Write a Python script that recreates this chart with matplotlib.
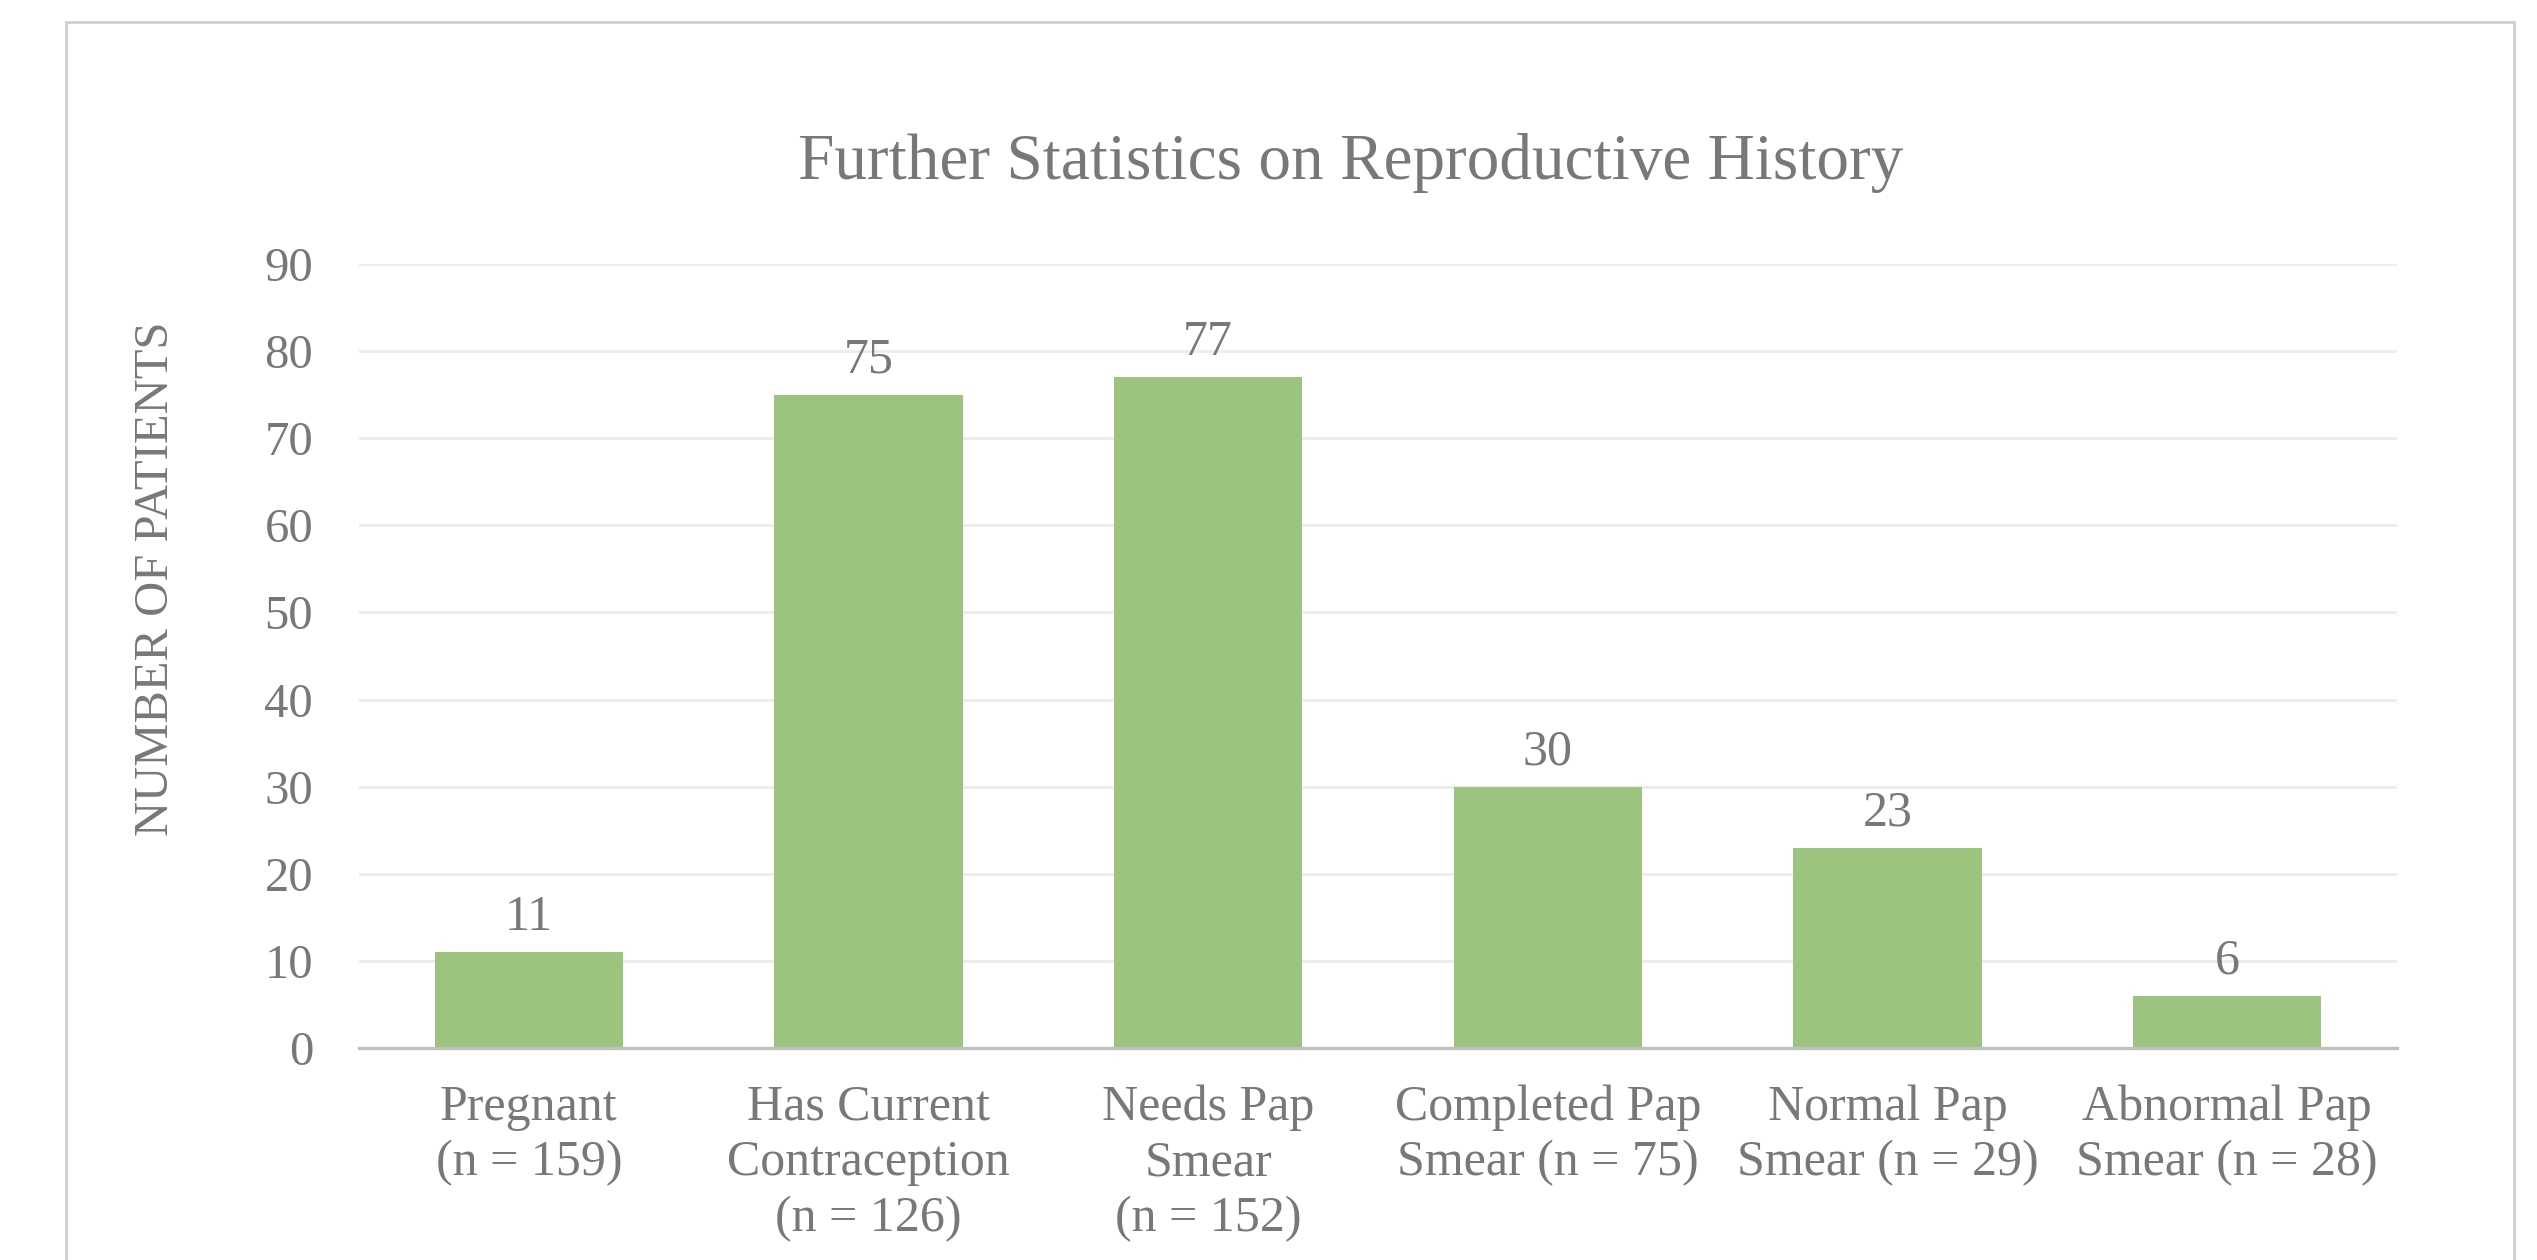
import matplotlib
matplotlib.use("Agg")
import matplotlib.pyplot as plt
from matplotlib.patches import Rectangle

# Chart data
categories = [
    "Pregnant\n(n = 159)",
    "Has Current\nContraception\n(n = 126)",
    "Needs Pap\nSmear\n(n = 152)",
    "Completed Pap\nSmear (n = 75)",
    "Normal Pap\nSmear (n = 29)",
    "Abnormal Pap\nSmear (n = 28)",
]
patients = [11, 75, 77, 30, 23, 6]
y_ticks = [0, 10, 20, 30, 40, 50, 60, 70, 80, 90]

bar_color = "#9cc47e"
text_color = "#787878"

plt.rcParams["font.family"] = ["Liberation Serif", "DejaVu Serif"]

W, H = 2537, 1260
fig = plt.figure(figsize=(W / 100, H / 100), dpi=100)

# Plot area position (measured in pixels from the reference)
left, right, top, bottom = 359, 2397, 264, 1048
ax = fig.add_axes([left / W, 1 - bottom / H, (right - left) / W, (bottom - top) / H])

x = list(range(len(categories)))
ax.bar(x, patients, width=0.555, color=bar_color, zorder=2)

# Value labels above bars
for xi, v in zip(x, patients):
    ax.annotate(str(v), (xi, v), xytext=(0, 16), textcoords="offset points",
                ha="center", va="baseline", fontsize=36, color=text_color)

ax.set_xlim(-0.5, len(categories) - 0.5)
ax.set_ylim(0, 90)
ax.set_yticks(y_ticks)
ax.set_xticks(x)
ax.set_xticklabels(categories, fontsize=36, color=text_color, linespacing=1.26)
ax.tick_params(axis="x", length=0, pad=26)
ax.tick_params(axis="y", length=0, pad=33, labelsize=35, labelcolor=text_color)

ax.grid(axis="y", color="#ececec", linewidth=2.0, zorder=0)
for side in ["top", "right", "left"]:
    ax.spines[side].set_visible(False)
ax.spines["bottom"].set_color("#bfbfbf")
ax.spines["bottom"].set_linewidth(2.4)
ax.spines["bottom"].set_zorder(3)

# Title and axis title
fig.text(1351 / W, 1 - 179 / H, "Further Statistics on Reproductive History",
         ha="center", va="baseline", fontsize=47, color=text_color)
fig.text(156 / W, 1 - 579 / H, "NUMBER OF PATIENTS", rotation=90,
         ha="center", va="center", fontsize=35, color=text_color)

# Outer chart border (bottom edge runs off the image)
fig.patches.append(Rectangle((66 / W, -0.05), (2514 - 66) / W, 1.05 - 22 / H,
                             transform=fig.transFigure, fill=False,
                             edgecolor="#cfcfcf", linewidth=2.0))

fig.savefig("out.png", dpi=100, facecolor="white")
